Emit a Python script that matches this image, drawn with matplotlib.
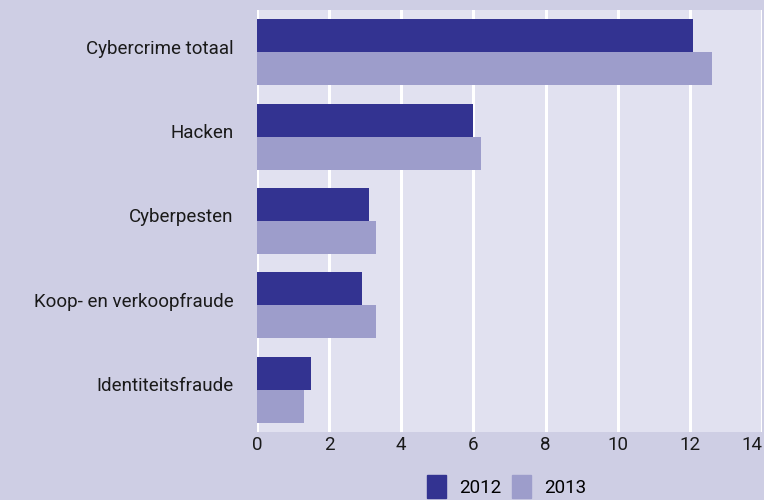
import numpy as np
import matplotlib.pyplot as plt
import matplotlib.transforms as mtransforms
from matplotlib.patches import Patch

categorieen = ['Cybercrime totaal', 'Hacken', 'Cyberpesten',
               'Koop- en verkoopfraude', 'Identiteitsfraude']
waarden_2012 = [12.1, 6.0, 3.1, 2.9, 1.5]
waarden_2013 = [12.6, 6.2, 3.3, 3.3, 1.3]
jaren = ['2012', '2013']

kleur_2012 = '#333391'
kleur_2013 = '#9d9dcb'
achtergrond = '#cecee4'
vlak = '#e1e1f0'

plt.rcParams['font.family'] = ['Roboto', 'DejaVu Sans']

fig = plt.figure(figsize=(7.64, 5.0), dpi=100, facecolor=achtergrond)
ax = fig.add_axes([0.3364, 0.136, 0.661, 0.844])
ax.set_facecolor(vlak)

y = np.arange(len(categorieen))
h = 0.39
ax.barh(y - h / 2, waarden_2012, height=h, color=kleur_2012, zorder=3)
ax.barh(y + h / 2, waarden_2013, height=h, color=kleur_2013, zorder=3)

ax.set_ylim(len(categorieen) - 0.5, -0.5)
ax.set_xlim(0, 14)
ax.set_xticks(range(0, 15, 2))
ax.set_yticks(y)
ax.set_yticklabels(categorieen)
ax.tick_params(length=0, labelsize=13.5, colors='#1a1a1a')
ax.tick_params(axis='y', pad=17)
ax.tick_params(axis='x', pad=3)
ax.xaxis.get_majorticklabels()[-1].set_horizontalalignment('right')
# labels iets boven het midden van de groep
omhoog = mtransforms.ScaledTranslation(0, 4 / 72, fig.dpi_scale_trans)
for lbl in ax.get_yticklabels():
    lbl.set_transform(lbl.get_transform() + omhoog)
ax.grid(axis='x', color='white', linewidth=2.2, zorder=1)
for s in ax.spines.values():
    s.set_visible(False)

handles = [Patch(color=kleur_2012), Patch(color=kleur_2013)]
fig.legend(handles, jaren, loc='lower center', bbox_to_anchor=(0.663, -0.03),
           ncol=2, frameon=False, fontsize=13.5, handlelength=1.0, handleheight=1.5,
           handletextpad=0.7, columnspacing=0.6)

fig.savefig('out.png', dpi=100, facecolor=achtergrond)
